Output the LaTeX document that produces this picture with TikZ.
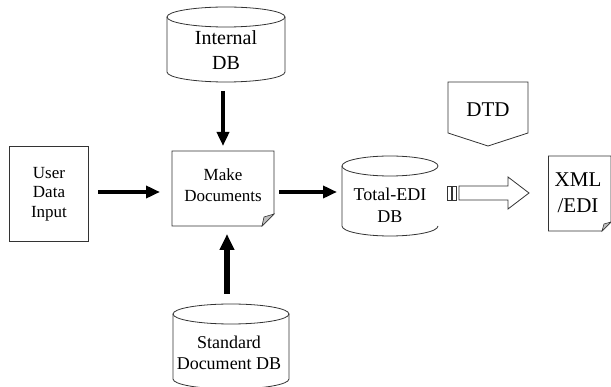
\documentclass[tikz,border=0pt]{standalone}
\usepackage{fontspec}
\setmainfont{Liberation Serif}
\usetikzlibrary{arrows.meta}
\tikzset{
  shp/.style={draw=black!80, line width=0.8pt},
  lbl/.style={align=center, inner sep=0pt},
  thick arrow/.style={line width=4.5pt, -{Triangle[length=14pt,width=12pt]}},
  fold/.style={draw=black!80, line width=0.6pt, fill=black!25}
}
\newcommand{\fs}[2]{\fontsize{#1}{#2}\selectfont}
\begin{document}
\begin{tikzpicture}[x=1pt,y=-1pt]
\useasboundingbox (0,0) rectangle (611,387);
% Internal DB cylinder
\draw[shp] (167,17) -- (167,72) arc[start angle=180,end angle=0,x radius=59,y radius=10] -- (285,17);
\draw[shp] (226,17) ellipse[x radius=59,y radius=10];
\node[lbl, font=\fs{20}{25}] (idb) at (226,50) {Internal\\DB};
\coordinate (idbbot) at (223,91);
% User Data Input
\draw[shp] (9,146) rectangle (88,241);
\node[lbl, font=\fs{17}{19.5}] (udi) at (49,194) {User\\Data\\Input};
\coordinate (udir) at (98,192);
% Make Documents
\draw[shp] (172,151) -- (274,151) -- (274,214) -- (262,226) -- (172,226) -- cycle;
\draw[fold] (274,214) -- (264,217) -- (262,226) -- cycle;
\node[lbl, font=\fs{17}{21}] (md) at (223,185) {Make\\Documents};
\coordinate (mdtop) at (223,146);
\coordinate (mdleft) at (160,192);
\coordinate (mdright) at (279,192);
\coordinate (mdbot) at (227,234);
% Standard Document DB
\draw[shp] (173,314) -- (173,379) arc[start angle=180,end angle=0,x radius=58,y radius=10] -- (289,314);
\draw[shp] (231,314) ellipse[x radius=58,y radius=10];
\node[lbl, font=\fs{18}{21}] (sdb) at (229,353) {Standard\\Document DB};
\coordinate (sdbtop) at (227,294);
% Total-EDI DB
\draw[shp] (342,166) -- (342,226) arc[start angle=180,end angle=0,x radius=48,y radius=10] -- (438,226);
\draw[shp] (390,166) ellipse[x radius=48,y radius=10];
\node[lbl, font=\fs{18}{22}] (tdb) at (390,205) {Total-EDI\\DB};
\coordinate (tdbleft) at (337,192);
% DTD
\draw[shp] (448,82) -- (528,82) -- (528,133) -- (488,146) -- (448,133) -- cycle;
\node[lbl, font=\fs{21}{25}] (dtd) at (488,110) {DTD};
% hollow arrow
\draw[shp, line width=0.7pt] (447.5,186) rectangle (451.5,200);
\draw[shp, line width=0.7pt] (452.5,186) rectangle (456.5,200);
\draw[shp] (459,186) -- (508,186) -- (508,177) -- (529,193) -- (508,209) -- (508,200) -- (459,200) -- cycle;
% XML/EDI
\draw[shp] (548,156) -- (611,156) -- (611,222) -- (602,231) -- (548,231);
\draw[shp] (548,156) -- (548,231);
\draw[fold] (611,222) -- (604,224) -- (602,231) -- cycle;
\node[lbl, font=\fs{21}{26}] (xml) at (578,193) {XML\\/EDI};
% arrows
\draw[thick arrow, line width=3.5pt] (idbbot) -- (mdtop);
\draw[thick arrow, line width=4pt] (udir) -- (mdleft);
\draw[thick arrow, line width=4pt] (mdright) -- (tdbleft);
\draw[thick arrow, line width=6pt, -{Triangle[length=16pt,width=14pt]}] (sdbtop) -- (mdbot);
\end{tikzpicture}
\end{document}
